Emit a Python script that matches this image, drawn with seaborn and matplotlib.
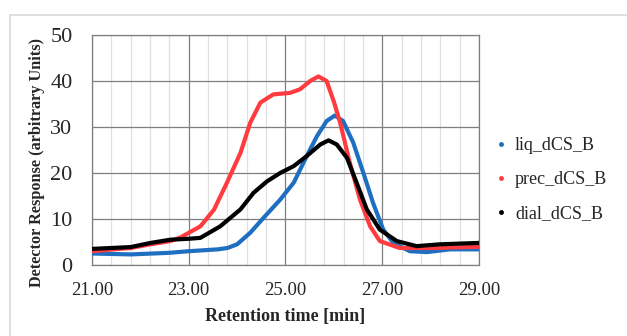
import numpy as np
import pandas as pd
import matplotlib
matplotlib.use("Agg")
import matplotlib.pyplot as plt
from matplotlib.lines import Line2D
from matplotlib.patches import Rectangle
from matplotlib.ticker import FormatStrFormatter
import seaborn as sns

# values
liq_t = [21.0, 21.8, 22.6, 23.0, 23.6, 23.8, 24.0, 24.27, 24.55, 24.89, 25.17, 25.44,
         25.65, 25.85, 26.02, 26.19, 26.40, 26.61, 26.81, 27.02, 27.23, 27.57, 27.92, 28.40, 29.0]
liq_y = [2.5, 2.3, 2.65, 3.0, 3.4, 3.7, 4.5, 7.0, 10.3, 14.2, 17.9, 23.7,
         28.0, 31.3, 32.5, 31.3, 26.6, 20.0, 13.5, 7.7, 4.8, 3.0, 2.8, 3.4, 3.4]

prec_t = [21.0, 21.8, 22.21, 22.62, 22.83, 23.0, 23.24, 23.52, 23.79, 24.07, 24.27, 24.48,
          24.75, 25.09, 25.30, 25.51, 25.68, 25.85, 26.0, 26.13, 26.33, 26.54, 26.75, 26.95,
          27.36, 28.05, 29.0]
prec_y = [3.0, 3.7, 4.5, 5.2, 6.0, 7.0, 8.4, 12.0, 17.9, 24.4, 30.9, 35.3,
          37.1, 37.4, 38.2, 40.0, 41.0, 40.0, 35.5, 30.9, 22.2, 14.2, 8.4, 5.2,
          3.7, 3.7, 3.95]

dial_t = [21.0, 21.8, 22.21, 22.62, 23.0, 23.24, 23.65, 24.07, 24.34, 24.62, 24.89, 25.17,
          25.44, 25.72, 25.89, 26.06, 26.27, 26.47, 26.68, 26.95, 27.30, 27.71, 28.19, 29.0]
dial_y = [3.5, 3.9, 4.8, 5.5, 5.7, 5.9, 8.4, 12.1, 15.7, 18.2, 20.0, 21.5,
          23.7, 26.2, 27.1, 26.2, 23.3, 17.9, 12.1, 7.7, 5.2, 4.1, 4.5, 4.8]

names = ["liq_dCS_B", "prec_dCS_B", "dial_dCS_B"]
colors = ["#1f6fc0", "#ff3b3f", "#000000"]
x_ticks = [21, 23, 25, 27, 29]
y_ticks = [0, 10, 20, 30, 40, 50]

sns.set_style("white")
plt.rcParams["font.family"] = ["Liberation Serif", "DejaVu Serif"]

fig = plt.figure(figsize=(6.27, 3.36), dpi=100)
fig.patches.append(Rectangle((10 / 627, -0.1), 1.2, 1 - 15 / 336 + 0.1, transform=fig.transFigure,
                             fill=False, edgecolor="#d9d9d9", linewidth=1.2, zorder=0))
ax = fig.add_axes([92 / 627, 1 - 265 / 336, 387 / 627, 230 / 336])

series = [(liq_t, liq_y), (prec_t, prec_y), (dial_t, dial_y)]
for (t, y), name, c in zip(series, names, colors):
    df = pd.DataFrame({"t": t, "y": y})
    sns.lineplot(data=df, x="t", y="y", ax=ax, color=c, linewidth=3, legend=False,
                 solid_capstyle="round", solid_joinstyle="round", zorder=3)

ax.set_xlim(21, 29)
ax.set_ylim(0, 50)
ax.set_xticks(x_ticks)
ax.set_xticks(np.arange(21, 29.01, 0.4), minor=True)
ax.set_yticks(y_ticks)
ax.xaxis.set_major_formatter(FormatStrFormatter("%.2f"))
ax.grid(which="major", color="#7f7f7f", linewidth=0.9)
ax.grid(which="minor", axis="x", color="#e0e0e0", linewidth=0.9)
ax.set_axisbelow(True)
for s in ax.spines.values():
    s.set_color("#7f7f7f")
    s.set_linewidth(0.9)
ax.tick_params(axis="both", which="both", length=0)
ax.tick_params(axis="y", labelsize=16, pad=14)
ax.tick_params(axis="x", labelsize=13.5, pad=12)

ax.set_xlabel("Retention time [min]", fontsize=13, fontweight="bold", labelpad=7)
ax.set_ylabel("Detector Response (arbitrary Units)", fontsize=11.7, fontweight="bold")
ax.yaxis.set_label_coords(-0.122, 0.445)

handles = [Line2D([], [], linestyle="none", marker="o", markersize=2.5, color=c) for c in colors]
ax.legend(handles, names, loc="center left", bbox_to_anchor=(1.0, 0.37), frameon=False,
          fontsize=13, labelspacing=0.95, handlelength=0.6, handletextpad=0.5)

fig.savefig("out.png", dpi=100)
plt.close(fig)
